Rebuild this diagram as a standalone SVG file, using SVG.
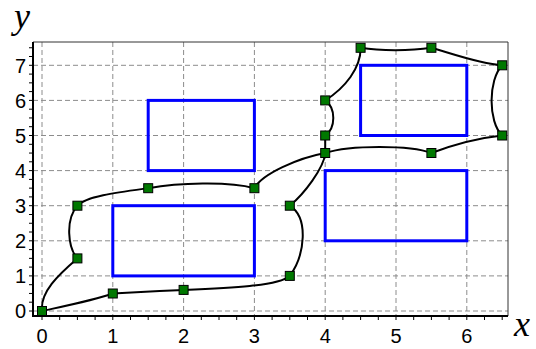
<svg xmlns="http://www.w3.org/2000/svg" width="536" height="349" viewBox="0 0 536 349">
<style>
.grid{stroke:#8c8c8c;stroke-width:1;stroke-dasharray:5,3;fill:none}
.tick{stroke:#000;stroke-width:1;fill:none}
.lbl{font-family:"Liberation Sans",Arial,sans-serif;font-size:20px;fill:#000}
.ttl{font-family:"Liberation Serif","Times New Roman",serif;font-style:italic;font-size:36px;fill:#000}
.box{fill:none;stroke:#0000ff;stroke-width:3}
.curve{fill:none;stroke:#000;stroke-width:2;stroke-linejoin:round}
.pt{fill:#007800;stroke:#000;stroke-width:1}
</style>
<rect width="536" height="349" fill="#fff"/>
<g id="grid">
<path class="grid" d="M42 42V316M112.8 42V316M183.6 42V316M254.4 42V316M325.2 42V316M396 42V316M466.8 42V316M33 311H508M33 275.9H508M33 240.8H508M33 205.7H508M33 170.6H508M33 135.5H508M33 100.4H508M33 65.3H508"/>
</g>
<g id="axes">
<path d="M33 42H508V316" fill="none" stroke="#333" stroke-width="1"/>
<path d="M33 42V316H508" fill="none" stroke="#000" stroke-width="2"/>
<path class="tick" d="M42 316v4M59.7 316v4M77.4 316v4M95.1 316v4M112.8 316v4M130.5 316v4M148.2 316v4M165.9 316v4M183.6 316v4M201.3 316v4M219 316v4M236.7 316v4M254.4 316v4M272.1 316v4M289.8 316v4M307.5 316v4M325.2 316v4M342.9 316v4M360.6 316v4M378.3 316v4M396 316v4M413.7 316v4M431.4 316v4M449.1 316v4M466.8 316v4M484.5 316v4M502.2 316v4"/>
<path class="tick" d="M29 311h4M29 302.2h4M29 293.45h4M29 284.7h4M29 275.9h4M29 267.1h4M29 258.35h4M29 249.6h4M29 240.8h4M29 232h4M29 223.25h4M29 214.5h4M29 205.7h4M29 196.9h4M29 188.15h4M29 179.4h4M29 170.6h4M29 161.8h4M29 153.05h4M29 144.3h4M29 135.5h4M29 126.7h4M29 117.95h4M29 109.2h4M29 100.4h4M29 91.6h4M29 82.85h4M29 74.1h4M29 65.3h4M29 56.5h4M29 47.75h4"/>
<g class="lbl" text-anchor="end">
<text x="26" y="318.2">0</text>
<text x="26" y="283.1">1</text>
<text x="26" y="248">2</text>
<text x="26" y="212.9">3</text>
<text x="26" y="177.8">4</text>
<text x="26" y="142.7">5</text>
<text x="26" y="107.6">6</text>
<text x="26" y="72.5">7</text>
</g>
<g class="lbl" text-anchor="middle">
<text x="42" y="343">0</text>
<text x="112.8" y="343">1</text>
<text x="183.6" y="343">2</text>
<text x="254.4" y="343">3</text>
<text x="325.2" y="343">4</text>
<text x="396" y="343">5</text>
<text x="466.8" y="343">6</text>
</g>
<text class="ttl" x="14" y="28">y</text>
<text class="ttl" x="514" y="336">x</text>
</g>
<g id="rect1"><rect class="box" x="148.2" y="100.4" width="106.2" height="70.2"/></g>
<g id="rect2"><rect class="box" x="112.8" y="205.7" width="141.6" height="70.2"/></g>
<g id="rect3"><rect class="box" x="325.2" y="170.6" width="141.6" height="70.2"/></g>
<g id="rect4"><rect class="box" x="360.6" y="65.3" width="106.2" height="70.2"/></g>
<g id="connectors">
<path class="curve" d="M42 311C40 292 58 275 77.4 258.4C68 248 65 220 77.4 205.7C86 196 120 192 148.2 188.2C178 183 228 181 254.4 188.2C262 174 298 158 325.2 153C350 145 410 145 431.4 153C450 146 478 138 502.2 135.5C488 122 488 80 502.2 65.3C480 64 450 53 431.4 47.8C410 51 380 51 360.6 47.8C361 68 345 88 325.2 100.4C336 108 336 128 325.2 135.5L325.2 153C324 168 304 194 289.8 205.7C309 218 305 255 289.8 275.9C278 286 230 288 183.6 289.9C160 291 135 292.5 112.8 293.5C95 300 65 306 42 311Z"/>
</g>
<g id="points">
<rect class="pt" x="37.5" y="306.5" width="9" height="9"/>
<rect class="pt" x="72.9" y="253.9" width="9" height="9"/>
<rect class="pt" x="72.9" y="201.2" width="9" height="9"/>
<rect class="pt" x="143.7" y="183.7" width="9" height="9"/>
<rect class="pt" x="249.9" y="183.7" width="9" height="9"/>
<rect class="pt" x="320.7" y="148.5" width="9" height="9"/>
<rect class="pt" x="426.9" y="148.5" width="9" height="9"/>
<rect class="pt" x="497.7" y="131" width="9" height="9"/>
<rect class="pt" x="497.7" y="60.8" width="9" height="9"/>
<rect class="pt" x="426.9" y="43.3" width="9" height="9"/>
<rect class="pt" x="356.1" y="43.3" width="9" height="9"/>
<rect class="pt" x="320.7" y="95.9" width="9" height="9"/>
<rect class="pt" x="320.7" y="131" width="9" height="9"/>
<rect class="pt" x="285.3" y="201.2" width="9" height="9"/>
<rect class="pt" x="285.3" y="271.4" width="9" height="9"/>
<rect class="pt" x="179.1" y="285.4" width="9" height="9"/>
<rect class="pt" x="108.3" y="289" width="9" height="9"/>
</g>
</svg>
